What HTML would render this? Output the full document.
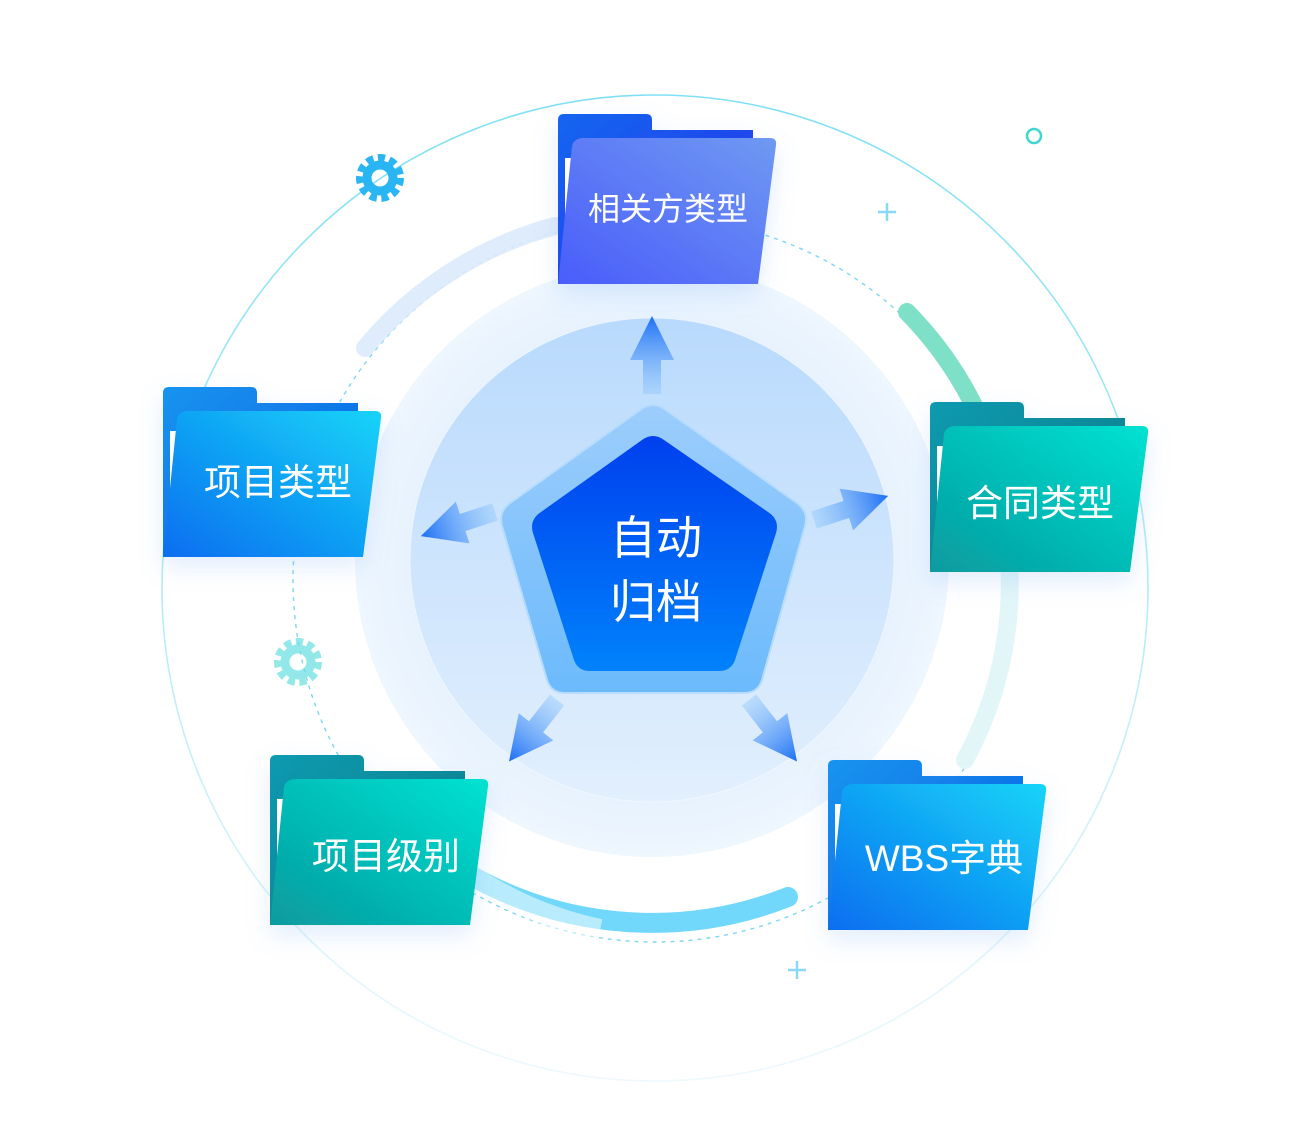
<!DOCTYPE html>
<html><head><meta charset="utf-8"><style>
html,body{margin:0;padding:0;background:#fff;}
svg{display:block;}
text{font-family:"Liberation Sans","Noto Sans CJK SC",sans-serif;fill:#fff;}
</style></head><body>
<svg width="1310" height="1146" viewBox="0 0 1310 1146" xmlns="http://www.w3.org/2000/svg">
<defs>
<linearGradient id="outer" x1="0" y1="0" x2="0" y2="1">
<stop offset="0" stop-color="#7fe0f5"/><stop offset="0.6" stop-color="#bdeef8"/><stop offset="1" stop-color="#eef9fc"/></linearGradient>
<radialGradient id="c1" cx="0.5" cy="0.5" r="0.5"><stop offset="0.7" stop-color="#e3f0fe"/><stop offset="1" stop-color="#eef6fe"/></radialGradient>
<linearGradient id="c2" x1="0" y1="0" x2="0" y2="1"><stop offset="0" stop-color="#b9dafd"/><stop offset="1" stop-color="#e2effd"/></linearGradient>
<linearGradient id="pOut" x1="0" y1="0" x2="0" y2="1"><stop offset="0" stop-color="#9ccdfc"/><stop offset="1" stop-color="#6cbafc"/></linearGradient>
<linearGradient id="pIn" x1="0" y1="0" x2="0" y2="1"><stop offset="0" stop-color="#0040ee"/><stop offset="1" stop-color="#0082fb"/></linearGradient>
<linearGradient id="arr" x1="0" y1="1" x2="0" y2="0"><stop offset="0" stop-color="#8cc6fb" stop-opacity="0.4"/><stop offset="1" stop-color="#1c6ef5"/></linearGradient>
<linearGradient id="fBlueB" x1="0" y1="0" x2="1" y2="1"><stop offset="0" stop-color="#1794f0"/><stop offset="1" stop-color="#0a5ce0"/></linearGradient>
<linearGradient id="fBlueF" x1="0" y1="1" x2="1" y2="0"><stop offset="0" stop-color="#0a6df0"/><stop offset="1" stop-color="#16d4f8"/></linearGradient>
<linearGradient id="fPurB" x1="0" y1="0" x2="1" y2="1"><stop offset="0" stop-color="#1466f0"/><stop offset="1" stop-color="#2a2fe8"/></linearGradient>
<linearGradient id="fPurF" x1="0" y1="1" x2="1" y2="0"><stop offset="0" stop-color="#4a5cfa"/><stop offset="1" stop-color="#6f99f2"/></linearGradient>
<linearGradient id="fTealB" x1="0" y1="0" x2="1" y2="1"><stop offset="0" stop-color="#0d9ab0"/><stop offset="1" stop-color="#067a85"/></linearGradient>
<linearGradient id="fTealF" x1="0" y1="1" x2="1" y2="0"><stop offset="0" stop-color="#089a9e"/><stop offset="1" stop-color="#00e2d2"/></linearGradient>
<filter id="sh" x="-20%" y="-20%" width="140%" height="150%"><feDropShadow dx="0" dy="10" stdDeviation="12" flood-color="#5a9cf0" flood-opacity="0.18"/></filter>
<g id="paper"><path d="M7,44 H22 L10,170 H7 Z" fill="#fff"/></g>
<path id="ar" d="M-9,0 V-34 H-22 L0,-78 L22,-34 H9 V0 Z"/>
</defs>

<circle cx="655" cy="588" r="493" fill="none" stroke="url(#outer)" stroke-width="1.6"/>
<circle cx="652" cy="560" r="297" fill="url(#c1)"/>
<circle cx="652" cy="560" r="242" fill="url(#c2)"/>
<circle cx="652" cy="560" r="242" fill="none" stroke="#f4f9ff" stroke-width="1" opacity="0.7"/>

<circle cx="655" cy="580" r="362" fill="none" stroke="#7fd6f2" stroke-width="1.4" stroke-dasharray="4 5"/>
<path d="M365,348 A370,370 0 0 1 555,226" fill="none" stroke="#dbeafb" stroke-width="18" stroke-linecap="round" opacity="0.9"/>
<path d="M907,312 A370,370 0 0 1 985,430" fill="none" stroke="#7ee0c6" stroke-width="18" stroke-linecap="round"/>
<path d="M995,480 A370,370 0 0 1 965,760" fill="none" stroke="#e2f6f8" stroke-width="18" stroke-linecap="round"/>
<path d="M470,875 A370,370 0 0 0 788,897" fill="none" stroke="#62d4fb" stroke-width="20" stroke-linecap="round" opacity="0.9"/>
<path d="M470,875 A370,370 0 0 0 600,930" fill="none" stroke="#fff" stroke-width="22" opacity="0.5"/>

<g transform="translate(380,178)">
<circle r="20" fill="none" stroke="#2bb6f3" stroke-width="8" stroke-dasharray="7 4.5"/>
<circle r="13" fill="none" stroke="#29b4f4" stroke-width="9"/>
</g>
<g transform="translate(298,662)" opacity="0.75">
<circle r="20" fill="none" stroke="#6fe2e0" stroke-width="8" stroke-dasharray="7 4.5"/>
<circle r="13" fill="none" stroke="#6edfe3" stroke-width="9"/>
</g>
<circle cx="1034" cy="136" r="7" fill="none" stroke="#3cd8d0" stroke-width="2.5"/>
<path d="M887,203 V221 M878,212 H896" stroke="#8bd8f6" stroke-width="2.5"/>
<path d="M797,961 V979 M788,970 H806" stroke="#8bd8f6" stroke-width="2.5"/>

<g fill="url(#arr)">
<use href="#ar" transform="translate(652,394)"/>
<use href="#ar" transform="translate(495,512) rotate(-108)"/>
<use href="#ar" transform="translate(814,520) rotate(72)"/>
<use href="#ar" transform="translate(557,700) rotate(-142)"/>
<use href="#ar" transform="translate(749,700) rotate(142)"/>
</g>

<path d="M640,410 Q653,400 666,410 L797,503 Q809,512 805,526 L762,680 Q758,693 744,693 L565,693 Q551,693 547,680 L502,526 Q498,512 510,503 Z" fill="url(#pOut)" stroke="#b8dcfd" stroke-width="2"/>
<path d="M642,440 Q653,432 664,440 L768,512 Q780,520 776,533 L735,660 Q731,671 719,671 L590,671 Q578,671 574,660 L533,533 Q529,520 541,512 Z" fill="url(#pIn)"/>
<text x="656" y="554" font-size="46" text-anchor="middle">自动</text>
<text x="656" y="618" font-size="46" text-anchor="middle">归档</text>

<g transform="translate(558,114)" filter="url(#sh)">
<path d="M0,6 Q0,0 6,0 H88 Q94,0 94,6 V16 H195 V170 H0 Z" fill="url(#fPurB)"/>
<use href="#paper"/>
<path d="M26,24 H212 Q219,24 218,31 L200,170 H0 L14,32 Q16,24 26,24 Z" fill="url(#fPurF)"/>
<text x="110" y="106" font-size="32" text-anchor="middle">相关方类型</text>
</g>
<g transform="translate(163,387)" filter="url(#sh)">
<path d="M0,6 Q0,0 6,0 H88 Q94,0 94,6 V16 H195 V170 H0 Z" fill="url(#fBlueB)"/>
<use href="#paper"/>
<path d="M26,24 H212 Q219,24 218,31 L200,170 H0 L14,32 Q16,24 26,24 Z" fill="url(#fBlueF)"/>
<text x="115" y="108" font-size="37" text-anchor="middle">项目类型</text>
</g>
<g transform="translate(930,402)" filter="url(#sh)">
<path d="M0,6 Q0,0 6,0 H88 Q94,0 94,6 V16 H195 V170 H0 Z" fill="url(#fTealB)"/>
<use href="#paper"/>
<path d="M26,24 H212 Q219,24 218,31 L200,170 H0 L14,32 Q16,24 26,24 Z" fill="url(#fTealF)"/>
<text x="110" y="114" font-size="37" text-anchor="middle">合同类型</text>
</g>
<g transform="translate(270,755)" filter="url(#sh)">
<path d="M0,6 Q0,0 6,0 H88 Q94,0 94,6 V16 H195 V170 H0 Z" fill="url(#fTealB)"/>
<use href="#paper"/>
<path d="M26,24 H212 Q219,24 218,31 L200,170 H0 L14,32 Q16,24 26,24 Z" fill="url(#fTealF)"/>
<text x="116" y="114" font-size="37" text-anchor="middle">项目级别</text>
</g>
<g transform="translate(828,760)" filter="url(#sh)">
<path d="M0,6 Q0,0 6,0 H88 Q94,0 94,6 V16 H195 V170 H0 Z" fill="url(#fBlueB)"/>
<use href="#paper"/>
<path d="M26,24 H212 Q219,24 218,31 L200,170 H0 L14,32 Q16,24 26,24 Z" fill="url(#fBlueF)"/>
<text x="116" y="111" font-size="37" text-anchor="middle">WBS字典</text>
</g>
</svg>
</body></html>
